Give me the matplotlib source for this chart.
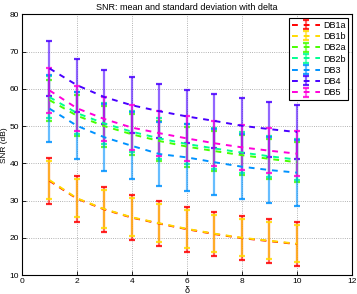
import matplotlib
matplotlib.use("Agg")
import matplotlib.pyplot as plt

# ----------------------------- Datos ---------------------------------------
delta = [1, 2, 3, 4, 5, 6, 7, 8, 9, 10]

labels = ["DB1a", "DB1b", "DB2a", "DB2b", "DB3", "DB4", "DB5"]

mean_db1a = [35.3, 30.5, 27.6, 25.4, 23.8, 22.3, 21.0, 19.9, 19.1, 18.3]
mean_db1b = [35.5, 30.6, 27.7, 25.5, 23.9, 22.4, 21.1, 20.0, 19.2, 18.4]
mean_db2a = [57.0, 52.8, 50.0, 47.8, 46.0, 44.5, 43.3, 42.2, 41.2, 40.3]
mean_db2b = [57.8, 53.5, 50.7, 48.5, 46.7, 45.2, 44.0, 42.9, 41.9, 41.0]
mean_db3 = [54.7, 50.1, 47.0, 44.7, 42.5, 41.6, 40.3, 39.1, 38.2, 37.5]
mean_db4 = [65.5, 61.0, 57.8, 55.6, 54.0, 52.6, 51.4, 50.1, 49.2, 48.4]
mean_db5 = [59.6, 54.8, 51.9, 49.6, 48.1, 46.7, 45.4, 44.3, 43.4, 42.6]

std_db1a = [6.2, 6.2, 6.1, 6.1, 6.1, 6.1, 6.0, 6.0, 6.0, 6.0]
std_db1b = [5.1, 5.1, 5.1, 5.1, 5.1, 5.1, 5.0, 5.0, 5.0, 5.0]
std_db2a = [5.5, 5.5, 5.5, 5.5, 5.4, 5.4, 5.4, 5.4, 5.4, 5.4]
std_db2b = [5.6, 5.6, 5.5, 5.5, 5.5, 5.5, 5.5, 5.5, 5.5, 5.5]
std_db3 = [9.0, 9.0, 9.0, 9.0, 8.6, 8.9, 8.8, 8.8, 8.8, 8.9]
std_db4 = [7.5, 7.1, 7.3, 7.5, 7.2, 7.2, 7.2, 7.4, 7.4, 7.3]
std_db5 = [6.0, 6.1, 6.0, 6.0, 6.0, 6.0, 6.0, 6.0, 6.0, 6.0]

means = [mean_db1a, mean_db1b, mean_db2a, mean_db2b, mean_db3, mean_db4, mean_db5]
stds = [std_db1a, std_db1b, std_db2a, std_db2b, std_db3, std_db4, std_db5]

# colormap hsv(7) de MATLAB
colors = ["#ff0000", "#ffdb00", "#49ff00", "#00ff92", "#0092ff", "#4900ff", "#ff00db"]

# ----------------------------- Estilo ---------------------------------------
plt.rcParams.update({
    "font.family": ["Liberation Sans", "DejaVu Sans"],
    "font.size": 6,
})

fig = plt.figure(figsize=(3.57, 2.94), dpi=100)
ax = fig.add_axes([0.0616, 0.0646, 0.9244, 0.8861])

for m, s, c, lab in zip(means, stds, colors, labels):
    cont = ax.errorbar(delta, m, yerr=s, fmt="--", color=c, ecolor=c, elinewidth=1.6,
                       capsize=2.5, capthick=1.6, lw=1.4, dashes=(3, 3), label=lab)
    # barras algo transparentes, linea media opaca
    for bar in cont[2]:
        bar.set_alpha(0.6)
    for cap in cont[1]:
        cap.set_alpha(0.85)

ax.set_xlim(0, 12)
ax.set_ylim(10, 80)
ax.set_xticks(range(0, 13, 2))
ax.set_yticks(range(10, 81, 10))
ax.grid(True, linestyle=":", color="#9a9a9a", linewidth=0.6)
ax.tick_params(direction="in", length=3, width=0.6, labelsize=6, pad=2)
for sp in ax.spines.values():
    sp.set_linewidth(0.8)

ax.set_title("SNR: mean and standard deviation with delta", fontsize=6.5, pad=3)
ax.set_xlabel("δ", fontsize=6.5, labelpad=1)
ax.set_ylabel("SNR (dB)", fontsize=6, labelpad=1)

leg = ax.legend(loc="upper right", fontsize=6.5, fancybox=False, edgecolor="black",
                framealpha=1, handlelength=3.2, handletextpad=0.3, labelspacing=0.25,
                borderpad=0.3, borderaxespad=0.4)
leg.get_frame().set_linewidth(0.8)

fig.savefig("out.png", dpi=100)
